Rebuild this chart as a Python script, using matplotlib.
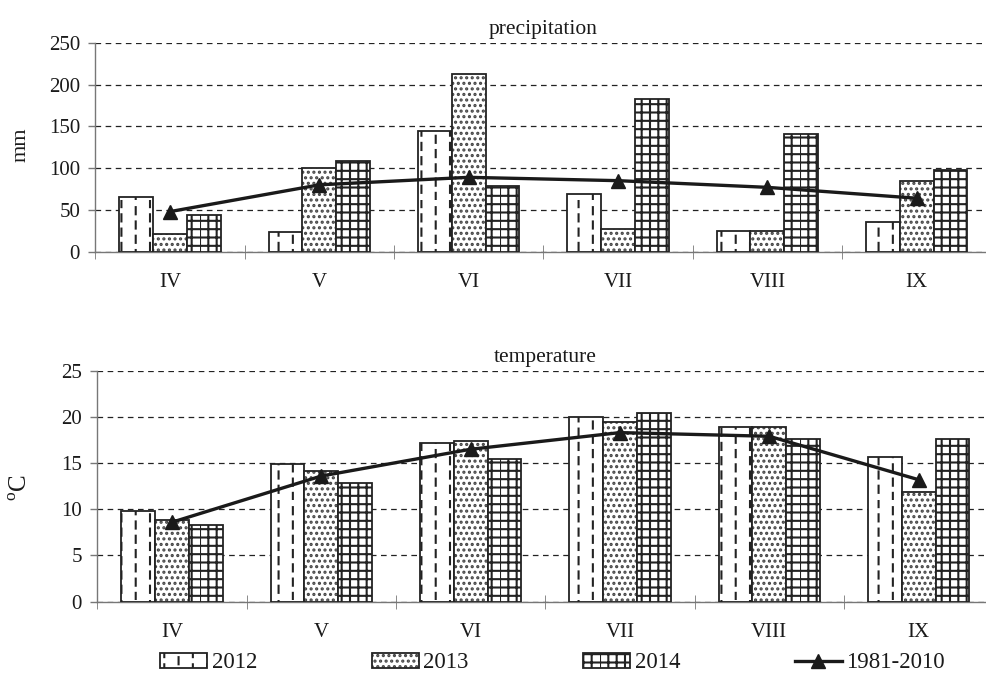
import numpy as np
import matplotlib
matplotlib.use("Agg")
import matplotlib.pyplot as plt
from matplotlib import hatch as mhatch
from matplotlib.path import Path

# ---------------- data ----------------
months = ["IV", "V", "VI", "VII", "VIII", "IX"]
series_labels = ["2012", "2013", "2014"]
normal_label = "1981-2010"

precip_2012 = [65, 23, 144, 69, 25, 35]
precip_2013 = [21, 100, 213, 27, 25, 85]
precip_2014 = [44, 108, 79, 183, 141, 98]
precip_norm = [48, 80, 89, 85, 77, 64]

temp_2012 = [9.8, 14.9, 17.2, 20.0, 18.9, 15.7]
temp_2013 = [8.8, 14.1, 17.4, 19.4, 18.9, 11.9]
temp_2014 = [8.3, 12.8, 15.4, 20.4, 17.6, 17.6]
temp_norm = [8.6, 13.6, 16.5, 18.3, 17.9, 13.2]


# ------------- custom hatch: '|' dashed vertical, '+' solid vertical -------------
class DashedVerticalHatch(mhatch.HatchPatternBase):
    NDASH = 7

    def __init__(self, hatch, density):
        self.n_solid = int(hatch.count('+') * density)
        self.n_dash = int(round(hatch.count('|') * density * 7 / 6))
        self.num_vertices = 2 * self.n_solid + 2 * self.n_dash * self.NDASH

    def set_vertices_and_codes(self, vertices, codes):
        i = 0
        if self.n_solid:
            for x in np.linspace(0.0, 1.0, self.n_solid, endpoint=False):
                vertices[i] = (x, 0.0)
                vertices[i + 1] = (x, 1.0)
                codes[i] = Path.MOVETO
                codes[i + 1] = Path.LINETO
                i += 2
        if self.n_dash:
            period = 1.0 / self.NDASH
            dash = period * 0.5
            for k, x in enumerate(np.linspace(0.0, 1.0, self.n_dash, endpoint=False)):
                off = (k % 2) * period / 2
                for j in range(self.NDASH):
                    y0 = off + j * period
                    vertices[i] = (x + 0.5 / self.n_dash, y0)
                    vertices[i + 1] = (x + 0.5 / self.n_dash, y0 + dash)
                    codes[i] = Path.MOVETO
                    codes[i + 1] = Path.LINETO
                    i += 2


mhatch._hatch_types = [DashedVerticalHatch if t is mhatch.VerticalHatch else t
                       for t in mhatch._hatch_types]

# ---------------- style ----------------
TXT = "#1a1a1a"
plt.rcParams["font.family"] = ["Liberation Serif", "DejaVu Serif"]
plt.rcParams["mathtext.fontset"] = "custom"
plt.rcParams["mathtext.rm"] = "Liberation Serif"
plt.rcParams["hatch.linewidth"] = 1.5
plt.rcParams["text.color"] = TXT

hatches = ["|", "...", "++"]
hatch_colors = ["#222222", "#444444", "#222222"]

fig = plt.figure(figsize=(9.87, 6.87), dpi=100)
ax1 = fig.add_axes([0.0966, 0.6336, 0.9078, 0.3042])
ax2 = fig.add_axes([0.0986, 0.1242, 0.9078, 0.3362])

x = np.arange(len(months))
bw = 0.226


def draw(ax, s2012, s2013, s2014, norm, ymax, ystep, title):
    handles = []
    for k, (vals, h, hc) in enumerate(zip([s2012, s2013, s2014], hatches, hatch_colors)):
        b = ax.bar(x + (k - 1) * bw, vals, width=bw, color="white", edgecolor="#222222",
                   linewidth=1.3, hatch=h, label=series_labels[k], zorder=3)
        for p in b:
            p._hatch_color = matplotlib.colors.to_rgba(hc)
        handles.append(b)
    ln, = ax.plot(x, norm, color="#1a1a1a", lw=2.4, marker="^", markersize=10,
                  label=normal_label, zorder=5)
    handles.append(ln)
    ax.set_xlim(-0.5, len(months) - 0.5)
    ax.set_ylim(0, ymax)
    ax.set_yticks(np.arange(0, ymax + ystep / 2, ystep))
    ax.yaxis.grid(True, color="#222222", linestyle=(0, (4.5, 3.6)), linewidth=0.9, zorder=0)
    ax.set_axisbelow(True)
    for s in ["top", "right"]:
        ax.spines[s].set_visible(False)
    for s in ["left", "bottom"]:
        ax.spines[s].set_color("#777777")
        ax.spines[s].set_linewidth(1.0)
    ax.set_xticks(x)
    ax.set_xticklabels(months)
    ax.set_xticks(np.arange(-0.5, len(months)), minor=True)
    ax.tick_params(axis="x", which="major", length=0, pad=15, labelsize=15, labelcolor=TXT)
    ax.tick_params(axis="x", which="minor", direction="inout", length=10, color="#777777")
    ax.tick_params(axis="y", which="major", direction="out", length=5, width=1,
                   color="#777777", pad=6, labelsize=15, labelcolor=TXT)
    ax.set_title(title, fontsize=15.5, pad=6, color=TXT)
    return handles


h = draw(ax1, precip_2012, precip_2013, precip_2014, precip_norm, 250, 50, "precipitation")
draw(ax2, temp_2012, temp_2013, temp_2014, temp_norm, 25, 5, "temperature")

fig.text(0.021, 0.789, "mm", rotation=90, ha="center", va="center", fontsize=16)
fig.text(0.021, 0.291, r"$^{\mathrm{o}}$C", rotation=90, ha="center", va="center", fontsize=18)

fig.legend(h, series_labels + [normal_label], loc="center", bbox_to_anchor=(0.560, 0.035),
           ncol=4, frameon=False, fontsize=16.5, handlelength=2.05, handleheight=0.6,
           columnspacing=5.0, handletextpad=0.2)

fig.savefig("out.png", dpi=100)
